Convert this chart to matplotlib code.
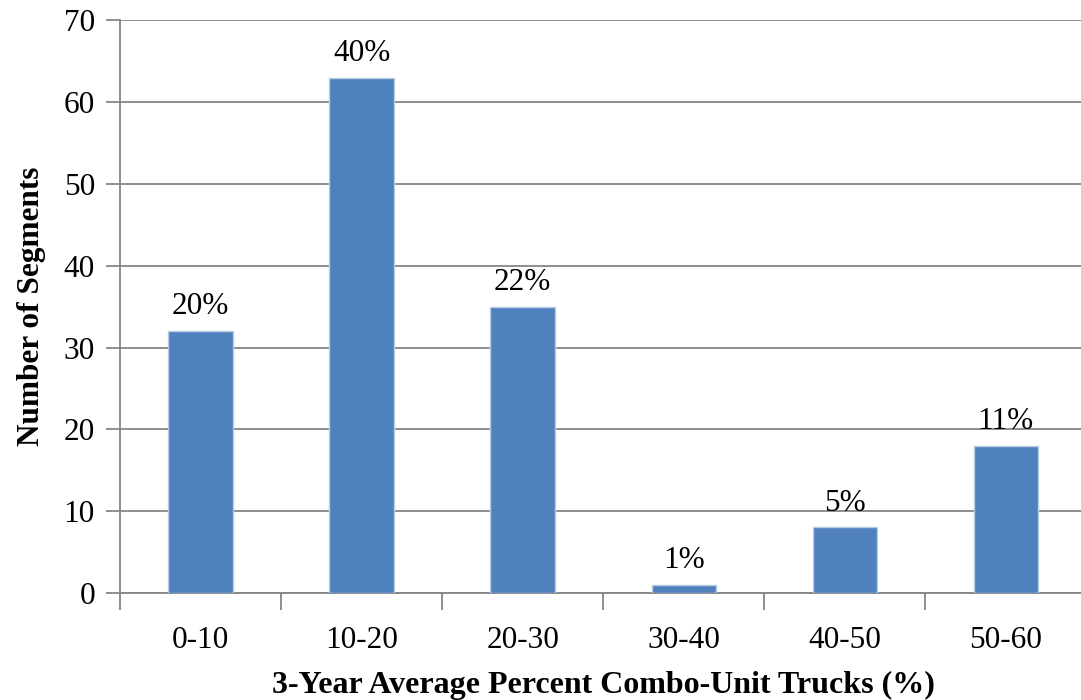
import matplotlib.pyplot as plt
from matplotlib.ticker import FixedLocator

categories = ["0-10", "10-20", "20-30", "30-40", "40-50", "50-60"]
segments = [32, 63, 35, 1, 8, 18]
percent_labels = ["20%", "40%", "22%", "1%", "5%", "11%"]

plt.rcParams['font.family'] = ['Liberation Serif', 'DejaVu Serif']

fig = plt.figure(figsize=(10.81, 7.0), dpi=100)
ax = fig.add_axes([0.111, 0.153, 0.894, 0.818])

x = range(len(categories))
bars = ax.bar(x, segments, width=0.4, color='#4F81BD', edgecolor='#B9CDE5',
              linewidth=1, zorder=3)

for b, lab in zip(bars, percent_labels):
    ax.annotate(lab, (b.get_x() + b.get_width() / 2, b.get_height()),
                xytext=(0, 7), textcoords='offset points',
                ha='center', va='bottom', fontsize=22.5)

ax.set_xlim(-0.5, len(categories) - 0.5)
ax.set_ylim(0, 70)
ax.set_yticks(range(0, 71, 10))
ax.yaxis.grid(True, color='#868686', linewidth=1.3, zorder=0)

# category boundaries carry the tick marks, labels sit in the middle
ax.xaxis.set_major_locator(FixedLocator([i - 0.5 for i in range(len(categories) + 1)]))
ax.xaxis.set_minor_locator(FixedLocator(list(x)))
ax.set_xticklabels([], minor=False)
ax.set_xticklabels(categories, minor=True)
ax.tick_params(axis='x', which='major', length=12, width=1.3, color='#868686')
ax.tick_params(axis='x', which='minor', length=0, pad=24, labelsize=22.5)
ax.tick_params(axis='y', length=10, width=1.3, color='#868686', labelsize=22.5, pad=8)

for s in ['top', 'right']:
    ax.spines[s].set_visible(False)
for s in ['left', 'bottom']:
    ax.spines[s].set_color('#868686')
    ax.spines[s].set_linewidth(1.3)

ax.set_xlabel("3-Year Average Percent Combo-Unit Trucks (%)", fontsize=23,
              fontweight='bold', labelpad=11)
ax.set_ylabel("Number of Segments", fontsize=22.5, fontweight='bold', labelpad=13)

fig.savefig("out.png", dpi=100)
